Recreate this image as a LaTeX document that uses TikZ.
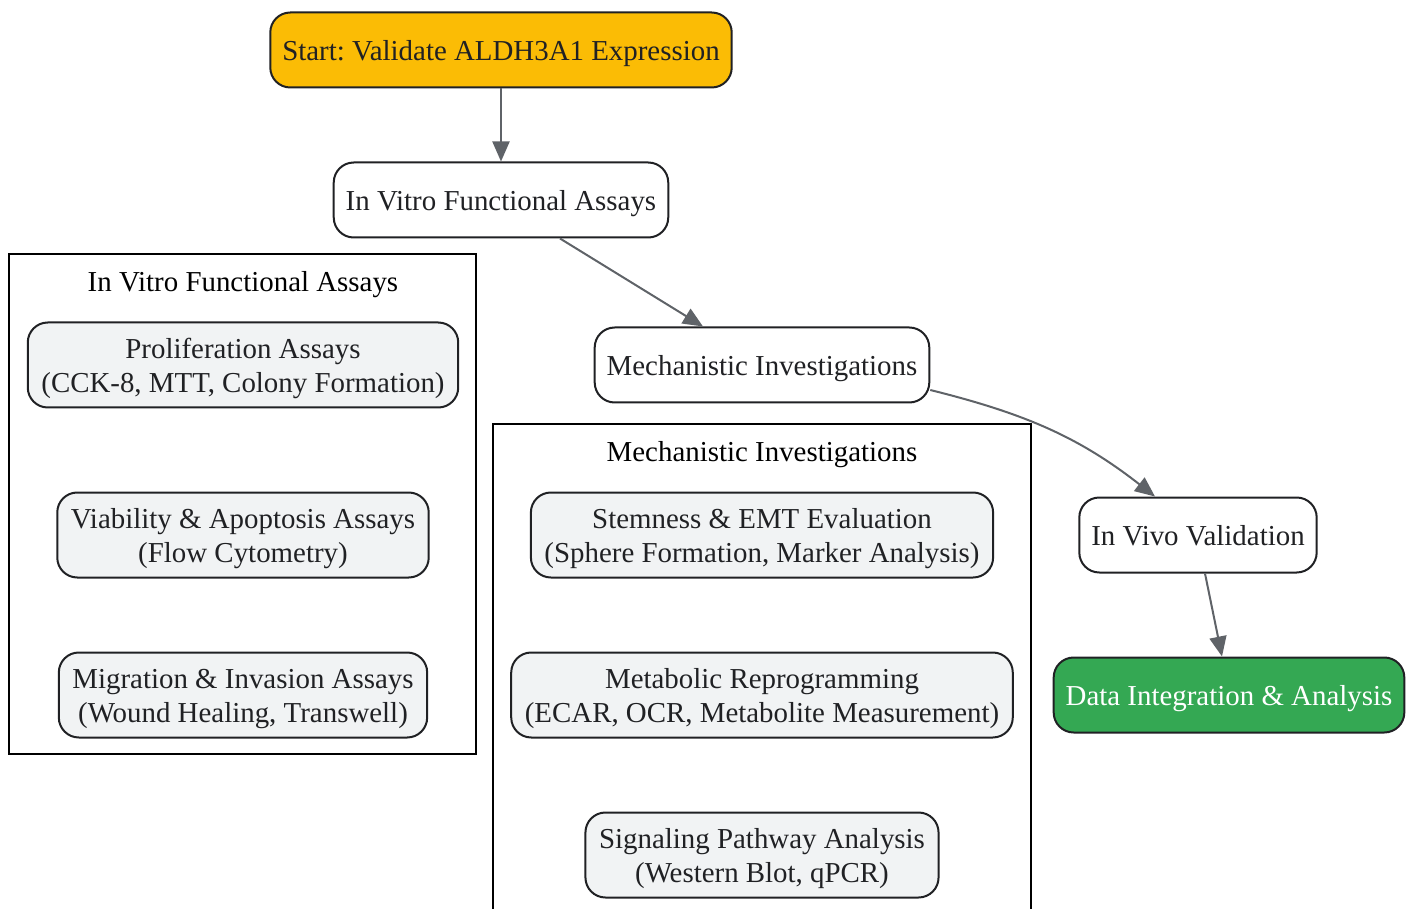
\documentclass[tikz,border=0pt]{standalone}
\usepackage{fontspec}
\setmainfont{Liberation Serif}
\frenchspacing
\usetikzlibrary{arrows.meta}
\definecolor{ink}{HTML}{202124}
\definecolor{edgegray}{HTML}{5F6368}
\definecolor{startyellow}{HTML}{FBBC05}
\definecolor{endgreen}{HTML}{34A853}
\definecolor{subgray}{HTML}{F1F3F4}
\newcommand{\boxstrut}{\rule[-3.3pt]{0pt}{17.5pt}}
\newcommand{\substrut}{\rule[-3.3pt]{0pt}{34.2pt}}

\begin{document}
\begin{tikzpicture}[x=0.5pt,y=-0.5pt,>={Triangle[length=10pt,width=8.5pt]},
  main node/.style={rectangle,rounded corners=10pt,draw=ink,line width=1pt,fill=white,
    text=ink,font=\fontsize{14.45}{17}\selectfont,inner xsep=6pt,minimum height=37.5pt,
    execute at begin node=\boxstrut},
  sub node/.style={main node,fill=subgray,align=center,minimum height=42.5pt,inner xsep=6.8pt,
    execute at begin node=\substrut},
  cluster/.style={draw=black,line width=1pt},
  cluster title/.style={text=black,font=\fontsize{14.45}{17}\selectfont,
    execute at begin node=\boxstrut},
  flow/.style={->,draw=edgegray,line width=1pt}]

  \useasboundingbox (0,0) rectangle (1415,909);

  % groups
  \draw[cluster] (9,254) rectangle (476,754);
  \draw[cluster] (493,424) rectangle (1031,930);
  \node[cluster title] (t1) at (243,281) {In Vitro Functional Assays};
  \node[cluster title] (t2) at (762,451) {Mechanistic Investigations};

  % main flow
  \node[main node,fill=startyellow] (start) at (501,50) {Start: Validate ALDH3A1 Expression};
  \node[main node] (iv) at (501,200) {In Vitro Functional Assays};
  \node[main node] (mi) at (762,365) {Mechanistic Investigations};
  \node[main node] (ivv) at (1198,535) {In Vivo Validation};
  \node[main node,fill=endgreen,text=white] (dia) at (1229,695) {Data Integration \& Analysis};

  % in vitro assays
  \node[sub node] (prol) at (243,365) {Proliferation Assays\\(CCK-8, MTT, Colony Formation)};
  \node[sub node] (via) at (243,535) {Viability \& Apoptosis Assays\\(Flow Cytometry)};
  \node[sub node] (mig) at (243,695) {Migration \& Invasion Assays\\(Wound Healing, Transwell)};

  % mechanistic
  \node[sub node] (stem) at (762,535) {Stemness \& EMT Evaluation\\(Sphere Formation, Marker Analysis)};
  \node[sub node] (meta) at (762,695) {Metabolic Reprogramming\\(ECAR, OCR, Metabolite Measurement)};
  \node[sub node] (sig) at (762,855) {Signaling Pathway Analysis\\(Western Blot, qPCR)};

  \draw[flow] (start) -- (iv);
  \draw[flow] ([xshift=29.5pt]iv.south) -- ([xshift=-29.5pt]mi.north);
  \draw[flow] ([yshift=-12.5pt]mi.east) to[out=-14,in=142] ([xshift=-21.5pt]ivv.north);
  \draw[flow] ([xshift=3.5pt]ivv.south) -- ([xshift=-3.5pt]dia.north);

\end{tikzpicture}
\end{document}
